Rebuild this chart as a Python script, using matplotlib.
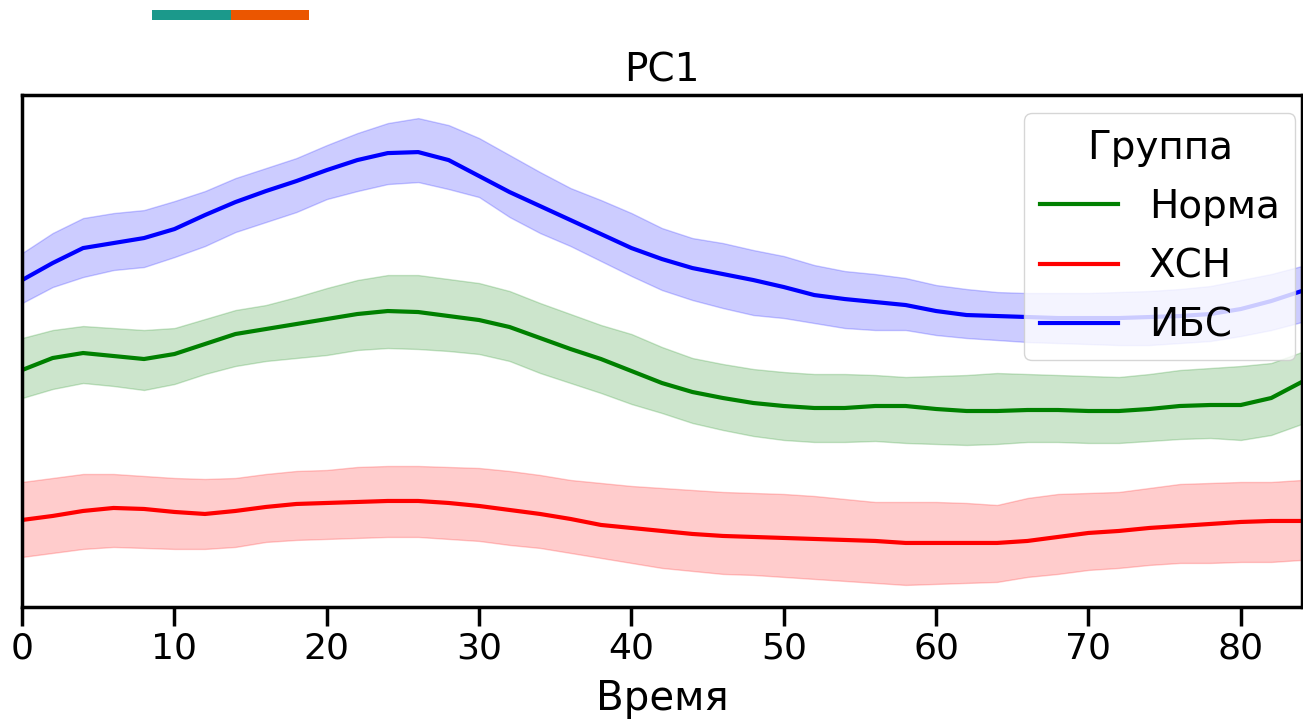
import numpy as np
import matplotlib
matplotlib.use("Agg")
import matplotlib.pyplot as plt
from matplotlib.patches import Rectangle


# Time grid (every 2 units)
time = np.arange(0, 85, 2)

# ИБС
ibs_mean = [3.27, 3.44, 3.59, 3.64, 3.69, 3.78, 3.92, 4.05, 4.16, 4.26, 4.37, 4.47, 4.54, 4.55,
            4.47, 4.31, 4.15, 4.01, 3.87, 3.73, 3.59, 3.48, 3.39, 3.33, 3.27, 3.20, 3.12, 3.08,
            3.05, 3.02, 2.96, 2.92, 2.91, 2.90, 2.89, 2.89, 2.89, 2.90, 2.91, 2.93, 2.98, 3.06, 3.16]
ibs_upper = [3.54, 3.74, 3.89, 3.94, 3.97, 4.06, 4.16, 4.29, 4.39, 4.49, 4.62, 4.74, 4.84, 4.89,
             4.82, 4.69, 4.52, 4.35, 4.19, 4.07, 3.94, 3.79, 3.69, 3.64, 3.57, 3.51, 3.42, 3.36,
             3.33, 3.29, 3.22, 3.18, 3.15, 3.14, 3.14, 3.14, 3.15, 3.16, 3.18, 3.21, 3.27, 3.33, 3.41]
ibs_lower = [3.04, 3.20, 3.30, 3.37, 3.40, 3.50, 3.61, 3.75, 3.85, 3.95, 4.08, 4.16, 4.23, 4.25,
             4.18, 4.10, 3.90, 3.74, 3.61, 3.46, 3.31, 3.17, 3.07, 2.99, 2.92, 2.89, 2.84, 2.79,
             2.77, 2.77, 2.72, 2.69, 2.67, 2.65, 2.64, 2.63, 2.62, 2.62, 2.64, 2.66, 2.71, 2.77, 2.85]

# Норма
norm_mean = [2.37, 2.49, 2.54, 2.51, 2.48, 2.53, 2.63, 2.73, 2.78, 2.83, 2.88, 2.93, 2.96, 2.95,
             2.91, 2.87, 2.80, 2.69, 2.58, 2.48, 2.36, 2.24, 2.15, 2.09, 2.04, 2.01, 1.99, 1.99,
             2.01, 2.01, 1.98, 1.96, 1.96, 1.97, 1.97, 1.96, 1.96, 1.98, 2.01, 2.02, 2.02, 2.09, 2.25]
norm_upper = [2.69, 2.77, 2.81, 2.79, 2.77, 2.79, 2.88, 2.97, 3.02, 3.10, 3.19, 3.27, 3.32, 3.32,
              3.28, 3.24, 3.16, 3.04, 2.93, 2.82, 2.73, 2.60, 2.49, 2.43, 2.38, 2.35, 2.33, 2.33,
              2.32, 2.30, 2.31, 2.32, 2.34, 2.33, 2.32, 2.31, 2.30, 2.33, 2.37, 2.39, 2.41, 2.44, 2.55]
norm_lower = [2.09, 2.18, 2.24, 2.21, 2.17, 2.23, 2.33, 2.41, 2.46, 2.49, 2.52, 2.57, 2.59, 2.58,
              2.56, 2.53, 2.46, 2.34, 2.24, 2.14, 2.03, 1.94, 1.84, 1.77, 1.71, 1.67, 1.65, 1.65,
              1.66, 1.64, 1.63, 1.62, 1.63, 1.65, 1.65, 1.64, 1.64, 1.66, 1.68, 1.69, 1.67, 1.72, 1.83]

# ХСН
hsn_mean = [0.87, 0.91, 0.96, 0.99, 0.98, 0.95, 0.93, 0.96, 1.00, 1.03, 1.04, 1.05, 1.06, 1.06,
            1.04, 1.01, 0.97, 0.93, 0.88, 0.82, 0.79, 0.76, 0.73, 0.71, 0.70, 0.69, 0.68, 0.67,
            0.66, 0.64, 0.64, 0.64, 0.64, 0.66, 0.70, 0.74, 0.76, 0.79, 0.81, 0.83, 0.85, 0.86, 0.86]
hsn_upper = [1.25, 1.29, 1.33, 1.33, 1.31, 1.29, 1.28, 1.29, 1.33, 1.36, 1.37, 1.40, 1.41, 1.41,
             1.40, 1.39, 1.36, 1.32, 1.27, 1.24, 1.21, 1.19, 1.17, 1.15, 1.14, 1.13, 1.11, 1.08,
             1.05, 1.05, 1.05, 1.04, 1.02, 1.09, 1.13, 1.14, 1.15, 1.19, 1.23, 1.24, 1.25, 1.25, 1.27]
hsn_lower = [0.50, 0.54, 0.58, 0.60, 0.59, 0.58, 0.58, 0.60, 0.65, 0.67, 0.68, 0.69, 0.70, 0.70,
             0.68, 0.66, 0.62, 0.59, 0.54, 0.49, 0.44, 0.39, 0.36, 0.33, 0.32, 0.30, 0.28, 0.26,
             0.24, 0.22, 0.23, 0.24, 0.25, 0.30, 0.33, 0.37, 0.39, 0.42, 0.44, 0.44, 0.45, 0.45, 0.47]

groups = ["Норма", "ХСН", "ИБС"]
colors = ["green", "red", "blue"]
means = [norm_mean, hsn_mean, ibs_mean]
uppers = [norm_upper, hsn_upper, ibs_upper]
lowers = [norm_lower, hsn_lower, ibs_lower]


fig = plt.figure(figsize=(13.03, 7.26), dpi=100)
ax = fig.add_axes([0.017, 0.164, 0.982, 0.705])

for name, c, m, lo, up in zip(groups, colors, means, lowers, uppers):
    ax.fill_between(time, lo, up, color=c, alpha=0.2)
    ax.plot(time, m, color=c, lw=3, label=name, solid_joinstyle="round")

ax.set_xlim(0, 84)
ax.set_ylim(0, 5.12)
ax.set_yticks([])
ax.set_xticks(range(0, 81, 10))
ax.tick_params(axis="x", labelsize=26, length=14, width=2.5)
for s in ax.spines.values():
    s.set_linewidth(2.5)

ax.set_title("PC1", fontsize=28, pad=10)
ax.set_xlabel("Время", fontsize=29, labelpad=10)

leg = ax.legend(title="Группа", loc="upper right", fontsize=28, title_fontsize=28,
                bbox_to_anchor=(0.995, 0.965), borderaxespad=0.0, labelspacing=0.55)
for line in leg.get_lines():
    line.set_linewidth(3)

# colour strip at the top
fig.add_artist(Rectangle((152 / 1303, 1 - 20 / 726), 79 / 1303, 10 / 726,
                         transform=fig.transFigure, color="#1b998b", lw=0))
fig.add_artist(Rectangle((231 / 1303, 1 - 20 / 726), 78 / 1303, 10 / 726,
                         transform=fig.transFigure, color="#eb5600", lw=0))

plt.savefig("out.png", dpi=100)
